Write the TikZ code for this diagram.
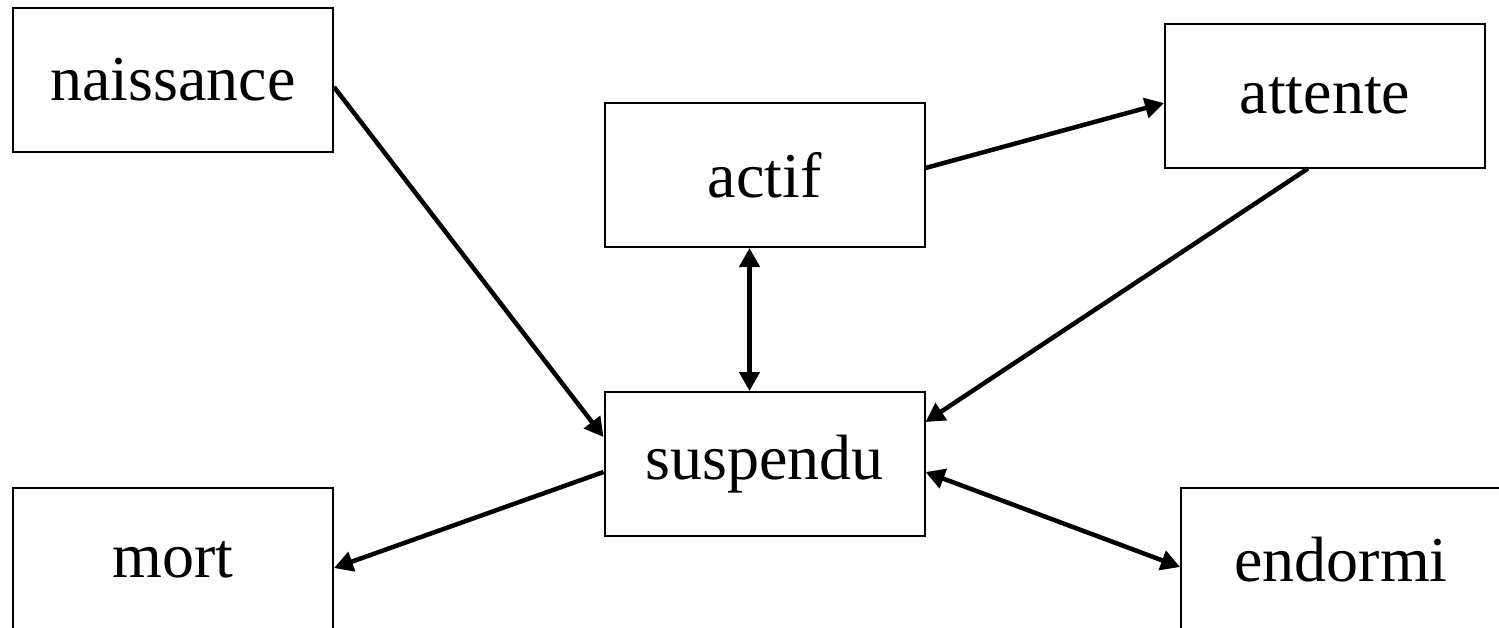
\documentclass[tikz,border=0pt]{standalone}
\usepackage{fontspec}
\setmainfont{Liberation Serif}
\usetikzlibrary{arrows.meta}
\begin{document}
\begin{tikzpicture}[x=1pt,y=-1pt,
  statebox/.style={draw=black,line width=2pt,minimum width=320pt,minimum height=144pt,inner sep=0pt,font=\fontsize{64}{70}\selectfont},
  conn/.style={line width=4.5pt,-{Triangle[length=19pt,width=20pt]}},
  conn2/.style={line width=4.5pt,{Triangle[length=19pt,width=20pt]}-{Triangle[length=19pt,width=20pt]}}]
\useasboundingbox (0,0) rectangle (1499,627);
\clip (0,0) rectangle (1499,627);
\fill[white] (0,0) rectangle (1499,627);
\node[statebox] (naissance) at (173,80) {naissance};
\node[statebox] (actif) at (764.5,175) {actif};
\node[statebox] (attente) at (1325,95.5) {attente};
\node[statebox] (suspendu) at (764.5,464) {suspendu};
\node[statebox] (mort) at (173,560) {mort};
\node[statebox] (endormi) at (1341,560) {endormi};
\draw[conn] ([yshift=-7pt]naissance.east) -- ([yshift=27pt]suspendu.west);
\draw[conn] ([yshift=7pt]actif.east) -- ([yshift=-7.5pt]attente.west);
\draw[conn] ([xshift=-17pt]attente.south) -- ([yshift=42pt]suspendu.east);
\draw[conn2] ([xshift=-15pt]actif.south) -- ([xshift=-15pt]suspendu.north);
\draw[conn] ([yshift=-8pt]suspendu.west) -- ([yshift=-8pt]mort.east);
\draw[conn2] ([yshift=-8pt]suspendu.east) -- ([yshift=-7pt]endormi.west);
\end{tikzpicture}
\end{document}
